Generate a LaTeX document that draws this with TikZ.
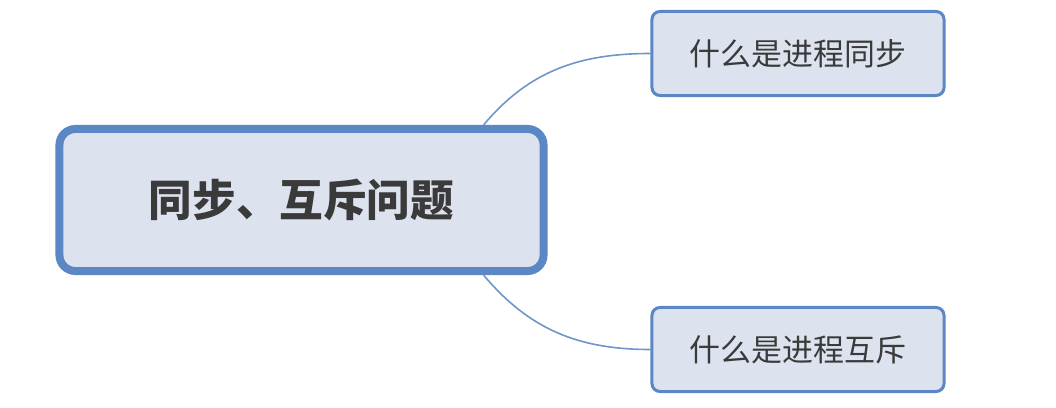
\documentclass[tikz,border=0pt]{standalone}
\usepackage{fontspec}
\newfontfamily\cjk{Noto Sans CJK SC}
\usetikzlibrary{positioning}
\definecolor{boxfill}{HTML}{DCE3EF}
\definecolor{boxline}{HTML}{5B87C5}
\definecolor{linkline}{HTML}{7095C8}
\definecolor{txt}{HTML}{3A3A3A}

\begin{document}
\begin{tikzpicture}[x=0.025cm, y=-0.025cm,
  topic/.style={draw=boxline, fill=boxfill, rounded corners=0.4cm, line width=0.2cm,
    minimum width=12.1cm, minimum height=3.55cm, text=txt, font=\cjk\bfseries\fontsize{31}{36}\selectfont},
  subtopic/.style={draw=boxline, fill=boxfill, rounded corners=0.2cm, line width=0.075cm,
    minimum width=7.3cm, minimum height=2.1cm, text=txt, font=\cjk\fontsize{22}{26}\selectfont},
  link/.style={draw=linkline, line width=0.04cm}]
\useasboundingbox (0,0) rectangle (1056,407);

\node [topic] (main) at (301.5,200) {同步、互斥问题};
\node [subtopic] (sync) at (798,53.5) {什么是进程同步};
\node [subtopic] (mutex) at (798,349.5) {什么是进程互斥};

\draw [link] ([xshift=-1.6cm]main.north east) to[out=50, in=180] (sync.west);
\draw [link] ([xshift=-1.6cm]main.south east) to[out=-50, in=180] (mutex.west);
\end{tikzpicture}
\end{document}
